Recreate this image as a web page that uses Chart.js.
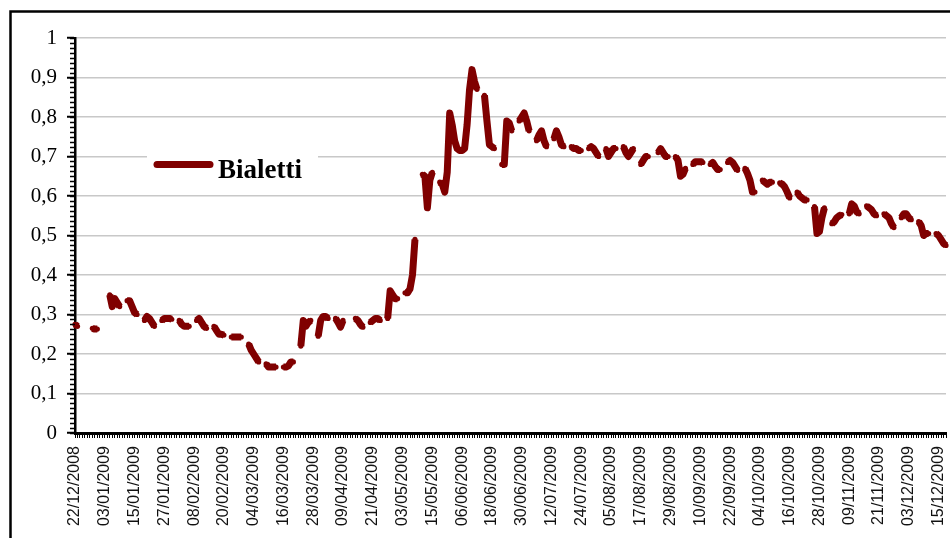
<!DOCTYPE html>
<html><head><meta charset="utf-8">
<script src="https://cdn.jsdelivr.net/npm/chart.js@4.4.1/dist/chart.umd.min.js"></script>
<style>html,body{margin:0;padding:0;background:#fff;overflow:hidden}canvas{display:block}</style>
</head><body>
<canvas id="c" width="950" height="538"></canvas>
<script>
// Category days (month, first day, last day) as they appear on the axis
const monthRanges = [
  ['12/2008',22,31],['01/2009',1,31],['02/2009',1,28],['03/2009',1,31],['04/2009',1,30],
  ['05/2009',1,26],['06/2009',6,30],['07/2009',1,31],['08/2009',1,31],['09/2009',1,30],
  ['10/2009',1,31],['11/2009',1,30],['12/2009',1,18]
];
const categories = [];
monthRanges.forEach(([m,a,b]) => { for (let d=a; d<=b; d++) categories.push(String(d).padStart(2,'0')+'/'+m); });

const tickLabels = ['22/12/2008','03/01/2009','15/01/2009','27/01/2009','08/02/2009','20/02/2009',
  '04/03/2009','16/03/2009','28/03/2009','09/04/2009','21/04/2009','03/05/2009','15/05/2009',
  '06/06/2009','18/06/2009','30/06/2009','12/07/2009','24/07/2009','05/08/2009','17/08/2009',
  '29/08/2009','10/09/2009','22/09/2009','04/10/2009','16/10/2009','28/10/2009','09/11/2009',
  '21/11/2009','03/12/2009','15/12/2009'];

const yTickLabels = ['0','0,1','0,2','0,3','0,4','0,5','0,6','0,7','0,8','0,9','1'];

const seriesName = 'Bialetti';
const bialetti = [
  0.275,0.27,null,null,null,null,null,
  0.265,0.263,0.263,null,null,null,null,
  0.35,0.32,0.34,0.33,0.32,null,null,
  0.335,0.335,0.32,0.305,0.30,null,null,
  0.285,0.295,0.29,0.28,0.27,null,null,
  0.285,0.29,0.29,0.29,0.288,null,null,
  0.285,0.275,0.27,0.27,0.27,null,null,
  0.285,0.29,0.28,0.27,0.265,null,null,
  0.27,0.26,0.25,0.25,0.248,null,null,
  0.243,0.243,0.243,0.243,0.243,null,null,
  0.225,0.21,0.20,0.19,0.18,null,null,
  0.175,0.167,0.167,0.167,0.167,null,null,
  0.167,0.167,0.17,0.18,0.18,null,null,
  0.22,0.285,0.27,0.28,0.285,null,null,
  0.245,0.285,0.295,0.295,0.29,null,null,
  0.29,0.28,0.268,0.285,null,null,null,
  null,0.29,0.285,0.275,0.268,null,null,
  0.28,0.285,0.29,0.29,0.285,null,null,
  0.29,0.36,0.35,0.34,0.34,null,null,
  0.355,0.355,0.365,0.40,0.49,null,null,
  0.655,0.65,0.57,0.64,0.66,null,null,
  0.635,0.63,0.61,0.66,0.81,0.78,0.74,
  0.72,0.715,0.715,0.72,
  0.78,0.87,0.92,0.89,0.87,null,null,
  0.855,0.79,0.73,0.725,0.72,null,null,
  0.68,0.68,0.79,0.785,0.765,null,null,
  0.79,0.80,0.81,0.79,0.765,null,null,
  0.74,0.755,0.765,0.74,0.725,null,null,
  0.745,0.765,0.75,0.73,0.725,null,null,
  0.725,0.72,0.72,0.715,0.715,null,null,
  0.72,0.725,0.72,0.71,0.70,null,null,
  0.72,0.70,0.71,0.72,0.72,null,null,
  0.725,0.71,0.70,0.71,0.72,null,null,
  0.68,0.69,0.70,0.70,null,null,null,
  0.71,0.72,0.71,0.70,0.70,null,null,
  0.70,0.69,0.65,0.655,0.67,null,null,
  0.68,0.687,0.687,0.687,0.685,null,null,
  0.68,0.685,0.675,0.667,0.667,null,null,
  0.685,0.69,0.685,0.675,0.665,null,null,
  0.67,0.657,0.64,0.61,0.61,null,null,
  0.64,0.635,0.63,0.635,0.635,null,null,
  0.633,0.63,0.623,0.61,0.595,null,null,
  0.61,0.60,0.595,0.59,0.59,null,null,
  0.573,0.505,0.51,0.545,0.57,null,null,
  0.53,0.535,0.545,0.55,0.553,null,null,
  0.555,0.58,0.575,0.56,0.555,null,null,
  0.575,0.57,0.565,0.555,0.55,null,null,
  0.555,0.55,0.545,0.53,0.52,null,null,
  0.545,0.555,0.555,0.545,0.54,null,null,
  0.535,0.525,0.50,0.505,0.505,null,null,
  0.505,0.50,0.49,0.48,0.475
];

const LINE_COLOR = '#800000';
const MINOR_STEP = 0.0125;

const decor = {
  id: 'decor',
  beforeDraw(chart) {
    const ctx = chart.ctx;
    ctx.save();
    ctx.fillStyle = '#fff';
    ctx.fillRect(0, 0, chart.width, chart.height);
    ctx.restore();
  },
  afterDraw(chart) {
    const ctx = chart.ctx;
    const ys = chart.scales.y;
    ctx.save();
    ctx.strokeStyle = '#000';
    ctx.lineWidth = 1.5;
    const n = Math.round(1 / MINOR_STEP);
    for (let k = 0; k <= n; k++) {
      const y = Math.round(ys.getPixelForValue(k * MINOR_STEP)) + 0.5;
      ctx.beginPath();
      ctx.moveTo(ys.right - 5, y);
      ctx.lineTo(ys.right, y);
      ctx.stroke();
    }
    // legend inside plot area
    ctx.fillStyle = '#fff';
    ctx.fillRect(147, 140, 171, 46);
    ctx.strokeStyle = LINE_COLOR;
    ctx.lineWidth = 7;
    ctx.lineCap = 'round';
    ctx.beginPath();
    ctx.moveTo(157, 164.5);
    ctx.lineTo(210, 164.5);
    ctx.stroke();
    ctx.fillStyle = '#000';
    ctx.font = 'bold 27px "Liberation Serif", "Times New Roman", serif';
    ctx.textBaseline = 'alphabetic';
    ctx.fillText(chart.data.datasets[0].label, 218, 178);
    // outer frame (left and top edges visible)
    ctx.strokeStyle = '#000';
    ctx.lineWidth = 2.5;
    ctx.lineCap = 'butt';
    ctx.beginPath();
    ctx.moveTo(10.5, chart.height);
    ctx.lineTo(10.5, 11.5);
    ctx.lineTo(chart.width, 11.5);
    ctx.stroke();
    ctx.restore();
  }
};

new Chart(document.getElementById('c'), {
  type: 'line',
  data: {
    labels: categories,
    datasets: [{
      label: seriesName,
      data: bialetti,
      borderColor: LINE_COLOR,
      backgroundColor: LINE_COLOR,
      borderWidth: 7,
      borderCapStyle: 'butt',
      borderJoinStyle: 'round',
      pointRadius: 2.6,
      pointBorderWidth: 0,
      pointBackgroundColor: LINE_COLOR,
      spanGaps: false,
      tension: 0,
      fill: false
    }]
  },
  options: {
    responsive: false,
    animation: false,
    events: [],
    layout: { padding: { top: 38, right: 2, left: 0, bottom: 0 } },
    plugins: { legend: { display: false }, tooltip: { enabled: false } },
    scales: {
      x: {
        type: 'category',
        offset: false,
        afterFit: s => { s.height = 105; s.paddingRight = 0; s.paddingLeft = 0; },
        grid: { display: true, drawOnChartArea: false, drawTicks: true, tickLength: 5, tickColor: '#000', tickWidth: 1 },
        border: { display: true, color: '#000', width: 3 },
        ticks: {
          autoSkip: false, minRotation: 90, maxRotation: 90, padding: 8,
          color: '#111',
          font: { family: '"Liberation Sans", Arial, sans-serif', size: 16 },
          callback: (v, idx) => (idx % 12 === 0 && tickLabels.includes(categories[idx])) ? categories[idx] : ''
        }
      },
      y: {
        min: 0, max: 1,
        afterFit: s => { s.width = 75; },
        grid: { color: '#c8c8c8', lineWidth: 1.5, drawTicks: true, tickLength: 8, tickColor: '#000', tickWidth: 2 },
        border: { display: true, color: '#000', width: 2.5 },
        ticks: {
          stepSize: 0.1, autoSkip: false, padding: 10, color: '#000',
          font: { family: '"Liberation Serif", "Times New Roman", serif', size: 21 },
          callback: v => yTickLabels[Math.round(v * 10)]
        }
      }
    }
  },
  plugins: [decor]
});
</script>
</body></html>
